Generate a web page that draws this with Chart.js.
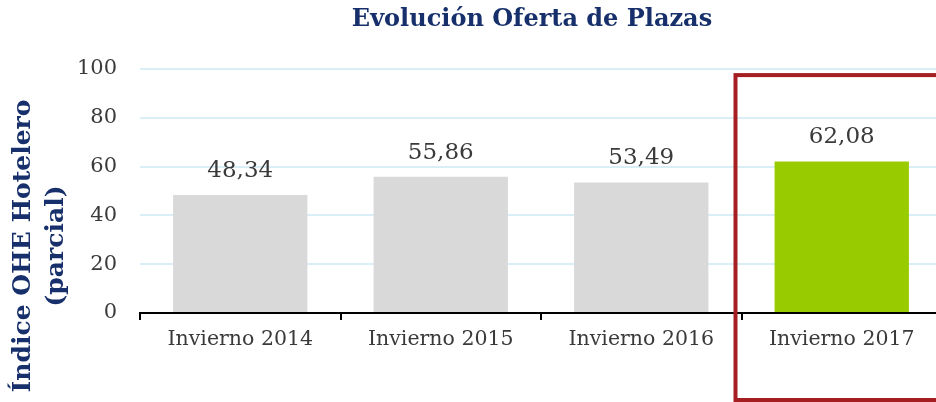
<!DOCTYPE html>
<html>
<head>
<meta charset="utf-8">
<script src="https://cdn.jsdelivr.net/npm/chart.js@4"></script>
<style>
    body { margin: 0; overflow: hidden; background: #fff; }
    #wrap { width: 945px; height: 402px; }
</style>
</head>
<body>
<div id="wrap"><canvas id="chart" width="945" height="402"></canvas></div>
<script>
// Chart data
const categories = ['Invierno 2014', 'Invierno 2015', 'Invierno 2016', 'Invierno 2017'];
const values = [48.34, 55.86, 53.49, 62.08];
const yTicks = [0, 20, 40, 60, 80, 100];
const barColors = ['#d9d9d9', '#d9d9d9', '#d9d9d9', '#99cc00'];

const navy = '#17306b';
const textColor = '#3a3a3a';
const serif = '"DejaVu Serif", Georgia, serif';

// Labels on top of bars, with comma decimals
const valueLabels = {
    id: 'valueLabels',
    afterDatasetsDraw(chart) {
        const ctx = chart.ctx;
        const meta = chart.getDatasetMeta(0);
        ctx.save();
        ctx.font = '23px ' + serif;
        ctx.fillStyle = textColor;
        ctx.textAlign = 'center';
        ctx.textBaseline = 'middle';
        meta.data.forEach((bar, i) => {
            ctx.fillText(values[i].toFixed(2).replace('.', ','), bar.x, bar.y - 24);
        });
        ctx.restore();
    }
};

// Title, axis title and highlight box
const decorations = {
    id: 'decorations',
    afterDraw(chart) {
        const ctx = chart.ctx;
        const area = chart.chartArea;
        const x = chart.scales.x;
        const y = chart.scales.y;
        ctx.save();

        // chart title, centred over the plot area
        ctx.font = 'bold 24px ' + serif;
        ctx.fillStyle = navy;
        ctx.textAlign = 'center';
        ctx.textBaseline = 'middle';
        ctx.fillText('Evolución Oferta de Plazas', 532, 20);

        // y axis title, two rotated lines
        ctx.translate(39, 246);
        ctx.rotate(-Math.PI / 2);
        ctx.font = 'bold 25px ' + serif;
        ctx.fillText('Índice OHE Hotelero', 0, -16);
        ctx.fillText('(parcial)', 0, 17);
        ctx.setTransform(1, 0, 0, 1, 0, 0);

        // red box around the last category
        const catW = (area.right - area.left) / categories.length;
        const left = x.getPixelForValue(categories.length - 1) - catW / 2 - 6;
        ctx.strokeStyle = '#a51e22';
        ctx.lineWidth = 4;
        ctx.strokeRect(left, y.getPixelForValue(97.5), 400, 400 - y.getPixelForValue(97.5));
        ctx.restore();
    }
};

new Chart(document.getElementById('chart'), {
    type: 'bar',
    data: {
        labels: categories,
        datasets: [{
            data: values,
            backgroundColor: barColors,
            borderWidth: 0,
            barPercentage: 0.67,
            categoryPercentage: 1
        }]
    },
    options: {
        responsive: false,
        animation: false,
        layout: { padding: { top: 69, right: 3, left: 0, bottom: 0 } },
        plugins: {
            legend: { display: false },
            tooltip: { enabled: false }
        },
        scales: {
            x: {
                afterFit(scale) { scale.height = 89; },
                grid: {
                    offset: true,
                    drawOnChartArea: false,
                    color: '#000',
                    lineWidth: 2,
                    tickLength: 7
                },
                border: { color: '#000', width: 2 },
                ticks: {
                    color: textColor,
                    font: { family: serif, size: 20.5 },
                    padding: 7
                }
            },
            y: {
                min: 0,
                max: 100,
                afterFit(scale) { scale.width = 140; },
                afterBuildTicks(scale) { scale.ticks = yTicks.map(v => ({ value: v })); },
                grid: {
                    color: '#daeef7',
                    lineWidth: 2,
                    drawTicks: false
                },
                border: { display: false },
                ticks: {
                    color: textColor,
                    font: { family: serif, size: 21 },
                    padding: 23
                }
            }
        }
    },
    plugins: [valueLabels, decorations]
});
</script>
</body>
</html>
